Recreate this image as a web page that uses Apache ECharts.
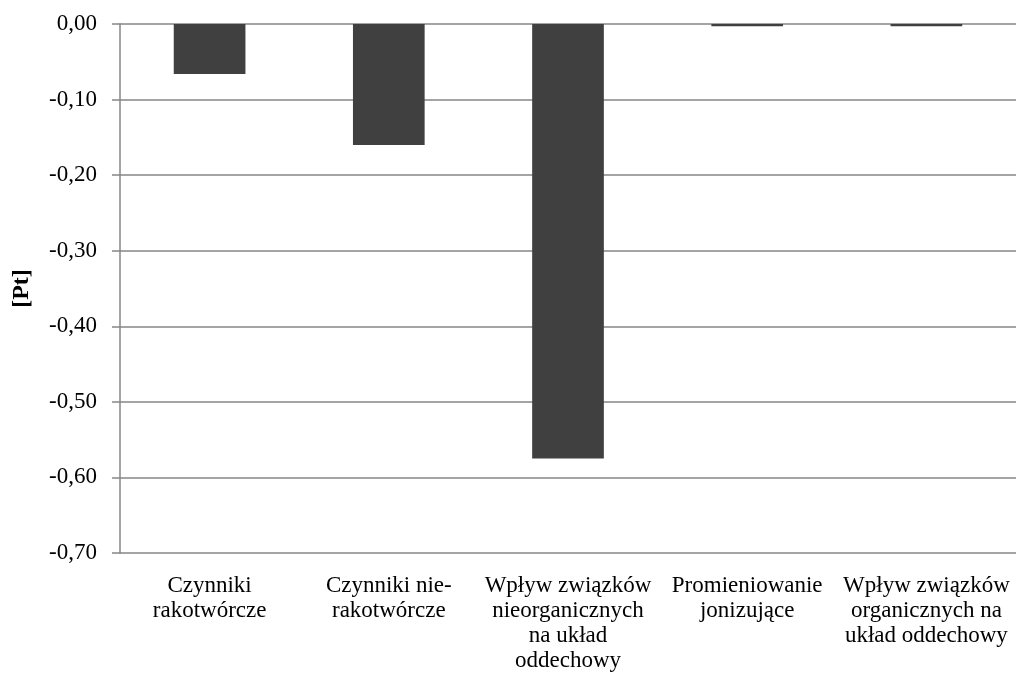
<!DOCTYPE html>
<html><head><meta charset="utf-8">
<script src="https://cdn.jsdelivr.net/npm/echarts@6/dist/echarts.min.js"></script>
<style>html,body{margin:0;padding:0;background:#fff}#c{width:1016px;height:674px}</style>
</head><body><div id="c"></div>
<script>
const categories = [
  "Czynniki\nrakotwórcze",
  "Czynniki nie-\nrakotwórcze",
  "Wpływ związków\nnieorganicznych\nna układ\noddechowy",
  "Promieniowanie\njonizujące",
  "Wpływ związków\norganicznych na\nukład oddechowy"
];
const values = [-0.066, -0.160, -0.575, -0.003, -0.003];
const yAxisName = "[Pt]";

const chart = echarts.init(document.getElementById('c'), null, {renderer: 'canvas'});
const font = "'Liberation Serif', 'Times New Roman', serif";
chart.setOption({
  animation: false,
  backgroundColor: '#fff',
  grid: {left: 120, right: 0, top: 24, bottom: 121, containLabel: false, outerBoundsMode: 'none'},
  xAxis: {
    type: 'category',
    data: categories,
    position: 'bottom',
    axisLine: {show: false},
    axisTick: {show: false},
    axisLabel: {color: '#000', fontFamily: font, fontSize: 23, lineHeight: 25, margin: 20, interval: 0}
  },
  yAxis: {
    type: 'value',
    min: -0.7, max: 0, interval: 0.1,
    name: yAxisName,
    nameLocation: 'middle',
    nameGap: 86,
    nameRotate: 90,
    nameTextStyle: {color: '#000', fontFamily: font, fontSize: 24, fontWeight: 'bold'},
    axisLine: {show: true, lineStyle: {color: '#868686', width: 1.5}},
    axisTick: {show: true, length: 8, lineStyle: {color: '#868686', width: 1.5}},
    splitLine: {show: true, lineStyle: {color: '#868686', width: 1.5}},
    axisLabel: {
      color: '#000', fontFamily: font, fontSize: 23, margin: 23,
      formatter: v => { const r = Math.round(v*100)/100; return (r === 0 ? 0 : r).toFixed(2).replace('.', ','); }
    }
  },
  series: [{
    type: 'bar',
    data: values,
    barWidth: '40%',
    itemStyle: {color: '#404040'}
  }]
});
</script></body></html>
